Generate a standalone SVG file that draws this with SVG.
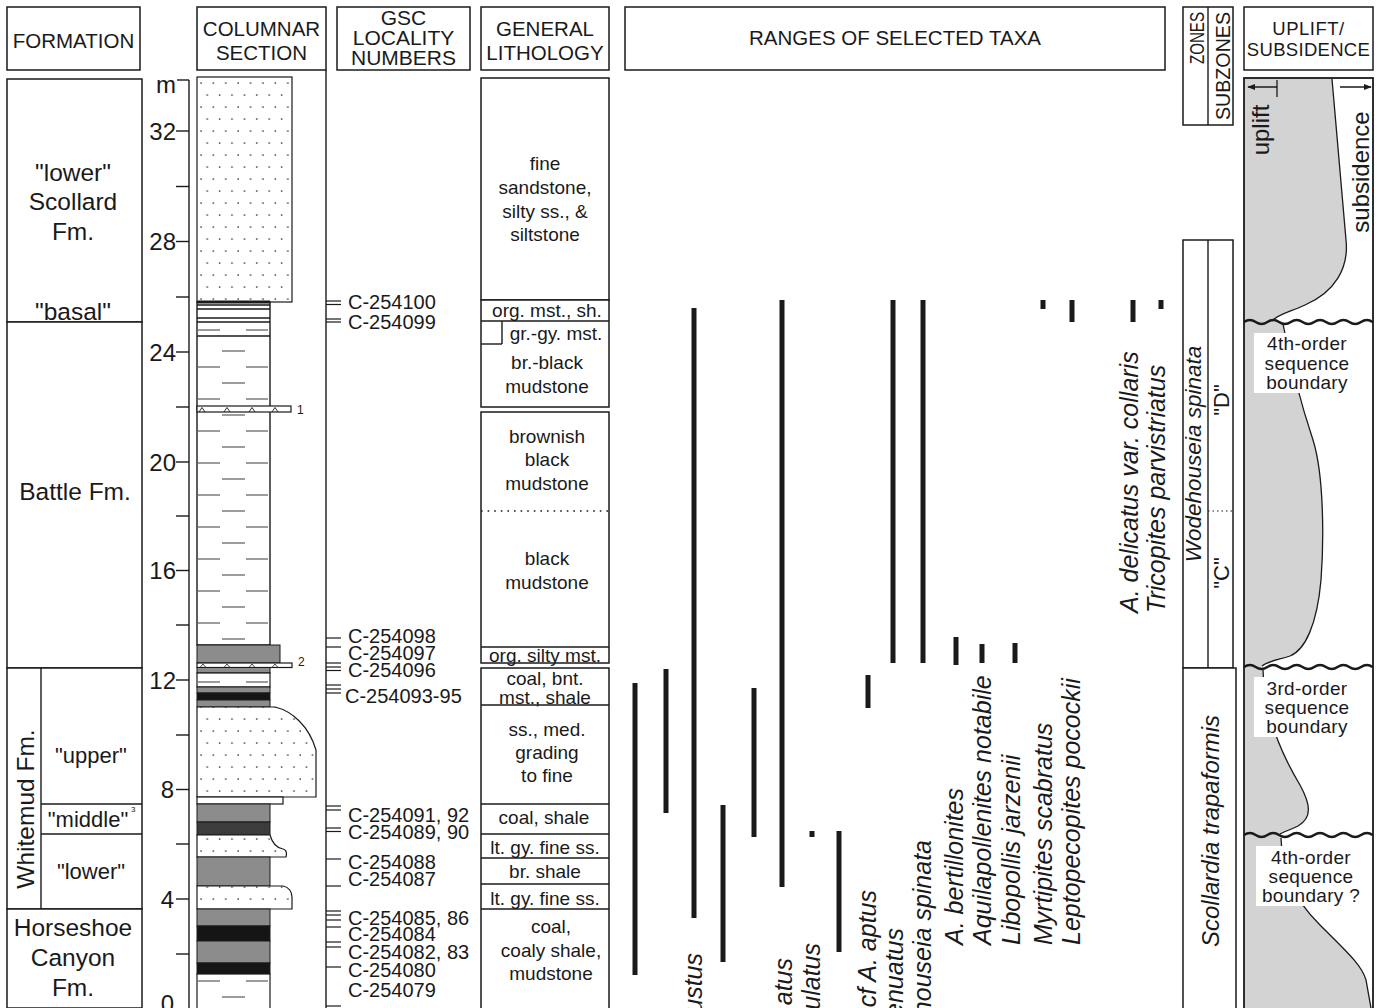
<svg xmlns="http://www.w3.org/2000/svg" width="1380" height="1008" viewBox="0 0 1380 1008">
<style>
text{font-family:"Liberation Sans",Arial,Helvetica,sans-serif;fill:#1a1a1a}
.h{font-size:20.5px;text-anchor:middle}
.box{fill:#fff;stroke:#1a1a1a;stroke-width:1.5}
.ln{stroke:#1a1a1a;stroke-width:1.4;fill:none}
.fm{font-size:24.5px;text-anchor:middle}
.fs{font-size:22px;text-anchor:middle}
.ax{font-size:24px;text-anchor:end}
.gsc{font-size:20px}
.li{font-size:19px;text-anchor:middle}
.tx{font-size:25px;font-style:italic}
.bar{fill:#1a1a1a}
.dash{stroke:#666;stroke-width:1.3}
.g{fill:#8c8c8c;stroke:#1a1a1a;stroke-width:1}
.dk{fill:#3c3c3c;stroke:#1a1a1a;stroke-width:1}
.bk{fill:#151515;stroke:#1a1a1a;stroke-width:1}
.wh{fill:#fff;stroke:#1a1a1a;stroke-width:1.2}
.sd{fill:url(#sand);stroke:#1a1a1a;stroke-width:1.2}
.sq{font-size:19px;text-anchor:middle;letter-spacing:0.3px}
.wave{fill:none;stroke:#1a1a1a;stroke-width:2.5}
</style>
<defs>
<pattern id="sand" patternUnits="userSpaceOnUse" x="197" y="77" width="12.4" height="24">
<rect width="12.4" height="24" fill="#fff"/>
<circle cx="4" cy="6" r="0.85" fill="#333"/>
<circle cx="10.2" cy="18" r="0.85" fill="#333"/>
</pattern>
<pattern id="mud" patternUnits="userSpaceOnUse" x="197" y="343" width="200" height="32">
<line x1="25" y1="8" x2="48" y2="8" stroke="#666" stroke-width="1.3"/>
<line x1="1" y1="24" x2="23" y2="24" stroke="#666" stroke-width="1.3"/>
<line x1="49" y1="24" x2="71" y2="24" stroke="#666" stroke-width="1.3"/>
</pattern>
<marker id="ah" viewBox="0 0 10 10" refX="9" refY="5" markerWidth="8" markerHeight="8" orient="auto" markerUnits="userSpaceOnUse">
<path d="M0,1 L10,5 L0,9 Z" fill="#1a1a1a"/>
</marker>
</defs>
<rect width="1380" height="1008" fill="#fff"/>

<g id="headers">
<rect class="box" x="7" y="7" width="133" height="63"/>
<text class="h" x="73.5" y="48">FORMATION</text>
<rect class="box" x="197" y="7" width="129" height="63"/>
<text class="h" x="261.5" y="36">COLUMNAR</text>
<text class="h" x="261.5" y="60">SECTION</text>
<rect class="box" x="337" y="7" width="133" height="63"/>
<text class="h" x="403.5" y="25" style="font-size:21px">GSC</text>
<text class="h" x="403.5" y="45" style="font-size:21px">LOCALITY</text>
<text class="h" x="403.5" y="65" style="font-size:21px">NUMBERS</text>
<rect class="box" x="481" y="7" width="128" height="63"/>
<text class="h" x="545" y="36">GENERAL</text>
<text class="h" x="545" y="60">LITHOLOGY</text>
<rect class="box" x="625" y="7" width="540" height="63"/>
<text class="h" x="895" y="45">RANGES OF SELECTED TAXA</text>
<rect class="box" x="1183" y="7" width="50" height="118"/>
<line class="ln" x1="1208" y1="7" x2="1208" y2="125"/>
<text transform="translate(1204,12) rotate(-90)" style="font-size:21px;text-anchor:end" textLength="52" lengthAdjust="spacingAndGlyphs">ZONES</text>
<text transform="translate(1230,12) rotate(-90)" style="font-size:21px;text-anchor:end" textLength="108" lengthAdjust="spacingAndGlyphs">SUBZONES</text>
<rect class="box" x="1244" y="7" width="129" height="63"/>
<text class="h" x="1308.5" y="34.5" style="font-size:18.5px;letter-spacing:0.5px">UPLIFT/</text>
<text class="h" x="1308.5" y="55.5" style="font-size:18.5px;letter-spacing:0.3px">SUBSIDENCE</text>
</g>

<g id="formation">
<rect class="box" x="7" y="79" width="135" height="243"/>
<text class="fm" x="73" y="180.5">"lower"</text>
<text class="fm" x="73" y="209.5">Scollard</text>
<text class="fm" x="73" y="239.5">Fm.</text>
<text class="fm" x="73" y="319.5">"basal"</text>
<rect class="box" x="7" y="322" width="135" height="346"/>
<text class="fm" x="75" y="499.5">Battle Fm.</text>
<rect class="box" x="7" y="668" width="135" height="241"/>
<line class="ln" x1="41" y1="668" x2="41" y2="909"/>
<line class="ln" x1="41" y1="804" x2="142" y2="804"/>
<line class="ln" x1="41" y1="834" x2="142" y2="834"/>
<text class="fm" transform="translate(34,809) rotate(-90)">Whitemud Fm.</text>
<text class="fs" x="91" y="762.7">"upper"</text>
<text class="fs" x="88" y="826.7">"middle"</text>
<text x="131" y="812" style="font-size:8px">3</text>
<text class="fs" x="91" y="878.7">"lower"</text>
<rect class="box" x="7" y="909" width="135" height="99"/>
<text class="fm" x="73" y="935.5">Horseshoe</text>
<text class="fm" x="73" y="965.5">Canyon</text>
<text class="fm" x="73" y="995.5">Fm.</text>
</g>

<g id="axis">
<line class="ln" x1="189" y1="80" x2="189" y2="1008"/>
<line class="ln" x1="177" y1="80" x2="189" y2="80"/>
<text x="166" y="93" style="font-size:24px;text-anchor:middle">m</text>
<g class="ln">
<line x1="176" y1="131" x2="189" y2="131"/><line x1="176" y1="186.5" x2="189" y2="186.5"/>
<line x1="176" y1="241.5" x2="189" y2="241.5"/><line x1="176" y1="297" x2="189" y2="297"/>
<line x1="176" y1="352" x2="189" y2="352"/><line x1="176" y1="407" x2="189" y2="407"/>
<line x1="176" y1="462" x2="189" y2="462"/><line x1="176" y1="516" x2="189" y2="516"/>
<line x1="176" y1="570.5" x2="189" y2="570.5"/><line x1="176" y1="625" x2="189" y2="625"/>
<line x1="176" y1="680" x2="189" y2="680"/><line x1="176" y1="735" x2="189" y2="735"/>
<line x1="176" y1="789.5" x2="189" y2="789.5"/><line x1="176" y1="844" x2="189" y2="844"/>
<line x1="176" y1="899" x2="189" y2="899"/><line x1="176" y1="954" x2="189" y2="954"/>
</g>
<text class="ax" x="176" y="139.5">32</text>
<text class="ax" x="176" y="250">28</text>
<text class="ax" x="176" y="360.5">24</text>
<text class="ax" x="176" y="470.5">20</text>
<text class="ax" x="176" y="579">16</text>
<text class="ax" x="176" y="688.5">12</text>
<text class="ax" x="174" y="798">8</text>
<text class="ax" x="174" y="907.5">4</text>
<text class="ax" x="174" y="1012">0</text>
</g>

<g id="columnar-section">
<line class="ln" x1="326" y1="70" x2="326" y2="1008"/>
<rect class="sd" x="197" y="77" width="95" height="225"/>
<rect x="197" y="302" width="73" height="343" fill="#fff" stroke="#1a1a1a" stroke-width="1.4"/>
<rect x="197" y="336" width="73" height="309" fill="url(#mud)"/>
<line x1="197" y1="302" x2="270" y2="302" stroke="#1a1a1a" stroke-width="2.8"/>
<g class="ln">
<line x1="197" y1="305" x2="270" y2="305"/><line x1="197" y1="309" x2="270" y2="309"/>
<line x1="197" y1="318" x2="270" y2="318"/><line x1="197" y1="322" x2="270" y2="322"/>
<line x1="197" y1="336" x2="270" y2="336"/>
</g>
<line class="dash" x1="198" y1="330" x2="220" y2="330"/><line class="dash" x1="246" y1="330" x2="268" y2="330"/>
<rect class="wh" x="197" y="406" width="94" height="6"/>
<g fill="none" stroke="#1a1a1a" stroke-width="0.9">
<path d="M199,412 L202,407.5 L205,412"/><path d="M224,412 L227,407.5 L230,412"/>
<path d="M249,412 L252,407.5 L255,412"/><path d="M272,412 L275,407.5 L278,412"/>
</g>
<text x="297" y="414" style="font-size:12px">1</text>
<rect class="g" x="197" y="645" width="83" height="18"/>
<rect class="wh" x="197" y="663" width="95" height="4.5"/>
<g fill="none" stroke="#1a1a1a" stroke-width="0.8">
<path d="M200,667.5 L203,664 L206,667.5"/><path d="M224,667.5 L227,664 L230,667.5"/>
<path d="M249,667.5 L252,664 L255,667.5"/><path d="M272,667.5 L275,664 L278,667.5"/>
</g>
<text x="298" y="666" style="font-size:12px">2</text>
<rect class="g" x="197" y="667.5" width="73" height="5.5"/>
<rect class="wh" x="197" y="673" width="73" height="14"/>
<line class="dash" x1="198" y1="682" x2="220" y2="682"/><line class="dash" x1="246" y1="682" x2="268" y2="682"/>
<rect class="g" x="197" y="687" width="73" height="6"/>
<rect class="bk" x="197" y="693" width="73" height="7"/>
<rect class="g" x="197" y="700" width="73" height="7"/>
<path class="sd" d="M197,707 L275,707 C292,711 309,726 316,750 L316,797 L197,797 Z"/>
<rect class="wh" x="197" y="797" width="86" height="7"/>
<rect class="g" x="197" y="804" width="73" height="18"/>
<rect class="dk" x="197" y="822" width="73" height="13"/>
<path class="sd" d="M197,835 L270,835 C272,842 276,848 283,849 C287,850 287,853 286,857 L197,857 Z"/>
<rect class="g" x="197" y="857" width="73" height="29"/>
<path class="sd" d="M197,886 L283,886 C289,887 292,892 292,897 L292,909 L197,909 Z"/>
<rect class="g" x="197" y="909" width="73" height="17"/>
<rect class="bk" x="197" y="926" width="73" height="15"/>
<rect class="g" x="197" y="941" width="73" height="22"/>
<rect class="bk" x="197" y="963" width="73" height="11"/>
<rect class="wh" x="197" y="974" width="73" height="40"/>
<line class="dash" x1="198" y1="981" x2="220" y2="981"/><line class="dash" x1="246" y1="981" x2="268" y2="981"/>
<line class="dash" x1="222" y1="997" x2="245" y2="997"/>
</g>

<g id="gsc-localities">
<g class="ln" style="stroke-width:1.2">
<line x1="326" y1="301" x2="341" y2="301"/><line x1="326" y1="304.5" x2="341" y2="304.5"/>
<line x1="326" y1="319" x2="341" y2="319"/><line x1="326" y1="322" x2="341" y2="322"/>
<line x1="326" y1="638" x2="341" y2="638"/><line x1="326" y1="647" x2="341" y2="647"/>
<line x1="326" y1="663" x2="341" y2="663"/><line x1="326" y1="667" x2="341" y2="667"/><line x1="326" y1="670.5" x2="341" y2="670.5"/>
<line x1="326" y1="685" x2="341" y2="685"/><line x1="326" y1="689" x2="341" y2="689"/><line x1="326" y1="693" x2="341" y2="693"/>
<line x1="326" y1="806" x2="341" y2="806"/><line x1="326" y1="810" x2="341" y2="810"/>
<line x1="326" y1="828" x2="341" y2="828"/><line x1="326" y1="831.5" x2="341" y2="831.5"/>
<line x1="326" y1="859" x2="341" y2="859"/><line x1="326" y1="886" x2="341" y2="886"/>
<line x1="326" y1="911" x2="341" y2="911"/><line x1="326" y1="915" x2="341" y2="915"/><line x1="326" y1="920" x2="341" y2="920"/>
<line x1="326" y1="927" x2="341" y2="927"/>
<line x1="326" y1="942" x2="341" y2="942"/><line x1="326" y1="947" x2="341" y2="947"/>
<line x1="326" y1="967" x2="341" y2="967"/><line x1="326" y1="1006" x2="341" y2="1006"/>
</g>
<text class="gsc" x="348" y="309">C-254100</text>
<text class="gsc" x="348" y="329">C-254099</text>
<text class="gsc" x="348" y="643">C-254098</text>
<text class="gsc" x="348" y="660">C-254097</text>
<text class="gsc" x="348" y="677">C-254096</text>
<text class="gsc" x="345" y="703">C-254093-95</text>
<text class="gsc" x="348" y="822">C-254091, 92</text>
<text class="gsc" x="348" y="839">C-254089, 90</text>
<text class="gsc" x="348" y="869">C-254088</text>
<text class="gsc" x="348" y="886">C-254087</text>
<text class="gsc" x="348" y="925">C-254085, 86</text>
<text class="gsc" x="348" y="941">C-254084</text>
<text class="gsc" x="348" y="959">C-254082, 83</text>
<text class="gsc" x="348" y="977">C-254080</text>
<text class="gsc" x="348" y="997">C-254079</text>
</g>

<g id="lithology">
<rect class="box" x="481" y="78" width="128" height="222"/>
<text class="li" x="545" y="169.6">fine</text>
<text class="li" x="545" y="193.6">sandstone,</text>
<text class="li" x="545" y="217.6">silty ss., &amp;</text>
<text class="li" x="545" y="240.6">siltstone</text>
<rect class="box" x="481" y="300" width="128" height="107"/>
<line class="ln" x1="481" y1="321" x2="609" y2="321"/>
<line class="ln" x1="502" y1="321" x2="502" y2="344"/>
<line class="ln" x1="481" y1="344" x2="502" y2="344"/>
<text class="li" x="547" y="316.6">org. mst., sh.</text>
<text class="li" x="556" y="339.6">gr.-gy. mst.</text>
<text class="li" x="547" y="368.6">br.-black</text>
<text class="li" x="547" y="392.6">mudstone</text>
<rect class="box" x="481" y="412" width="128" height="251"/>
<line x1="481" y1="511" x2="609" y2="511" stroke="#1a1a1a" stroke-width="1.6" stroke-dasharray="1.6,5"/>
<line class="ln" x1="481" y1="647" x2="609" y2="647"/>
<text class="li" x="547" y="442.6">brownish</text>
<text class="li" x="547" y="465.6">black</text>
<text class="li" x="547" y="489.6">mudstone</text>
<text class="li" x="547" y="564.6">black</text>
<text class="li" x="547" y="588.6">mudstone</text>
<text class="li" x="545" y="661.6">org. silty mst.</text>
<rect class="box" x="481" y="668" width="128" height="345"/>
<g class="ln">
<line x1="481" y1="705" x2="609" y2="705"/><line x1="481" y1="804" x2="609" y2="804"/>
<line x1="481" y1="834" x2="609" y2="834"/><line x1="481" y1="858" x2="609" y2="858"/>
<line x1="481" y1="884" x2="609" y2="884"/><line x1="481" y1="909" x2="609" y2="909"/>
</g>
<text class="li" x="545" y="684.6">coal, bnt.</text>
<text class="li" x="545" y="703.6">mst., shale</text>
<text class="li" x="547" y="735.6">ss., med.</text>
<text class="li" x="547" y="758.6">grading</text>
<text class="li" x="547" y="781.6">to fine</text>
<text class="li" x="544" y="823.6">coal, shale</text>
<text class="li" x="545" y="853.6">lt. gy. fine ss.</text>
<text class="li" x="545" y="877.6">br. shale</text>
<text class="li" x="545" y="904.6">lt. gy. fine ss.</text>
<text class="li" x="551" y="932.6">coal,</text>
<text class="li" x="551" y="956.6">coaly shale,</text>
<text class="li" x="551" y="979.6">mudstone</text>
</g>

<g id="taxa-ranges">
<rect class="bar" x="632.5" y="683" width="5" height="292"/>
<rect class="bar" x="663.5" y="669" width="5" height="144"/>
<rect class="bar" x="691.5" y="308" width="5" height="610"/>
<rect class="bar" x="720.5" y="805" width="5" height="157"/>
<rect class="bar" x="751.5" y="688" width="5" height="149"/>
<rect class="bar" x="779.5" y="300" width="5" height="587"/>
<rect class="bar" x="809.5" y="831" width="5" height="6"/>
<rect class="bar" x="836.5" y="831" width="5" height="121"/>
<rect class="bar" x="865.5" y="675" width="5" height="33"/>
<rect class="bar" x="890.5" y="300" width="5" height="363"/>
<rect class="bar" x="920.5" y="300" width="5" height="363"/>
<rect class="bar" x="953.5" y="637" width="5" height="28"/>
<rect class="bar" x="979.5" y="644" width="5" height="19"/>
<rect class="bar" x="1012.5" y="643" width="5" height="20"/>
<rect class="bar" x="1040.5" y="300" width="5" height="9"/>
<rect class="bar" x="1069.5" y="300" width="5" height="22"/>
<rect class="bar" x="1130.5" y="300" width="5" height="22"/>
<rect class="bar" x="1158.5" y="300" width="5" height="9"/>
<text class="tx" transform="translate(702,953) rotate(-90)" text-anchor="end">ustus</text>
<text class="tx" transform="translate(792,958) rotate(-90)" text-anchor="end">atus</text>
<text class="tx" transform="translate(820,943) rotate(-90)" text-anchor="end">ulatus</text>
<text class="tx" transform="translate(876,890) rotate(-90)" text-anchor="end">cf A. aptus</text>
<text class="tx" transform="translate(903,928) rotate(-90)" text-anchor="end">enuatus</text>
<text class="tx" transform="translate(931,840) rotate(-90)" text-anchor="end">houseia spinata</text>
<text class="tx" transform="translate(963,945) rotate(-90)">A. bertillonites</text>
<text class="tx" transform="translate(991,945) rotate(-90)">Aquilapollenites notabile</text>
<text class="tx" transform="translate(1020,945) rotate(-90)">Libopollis jarzenii</text>
<text class="tx" transform="translate(1052,945) rotate(-90)">Myrtipites scabratus</text>
<text class="tx" transform="translate(1080,945) rotate(-90)">Leptopecopites pocockii</text>
<text class="tx" transform="translate(1138,613) rotate(-90)">A. delicatus var. collaris</text>
<text class="tx" transform="translate(1165,613) rotate(-90)">Tricopites parvistriatus</text>
</g>

<g id="zones">
<rect class="box" x="1183" y="240" width="50" height="428"/>
<line class="ln" x1="1208" y1="240" x2="1208" y2="668"/>
<line x1="1208" y1="511" x2="1233" y2="511" stroke="#1a1a1a" stroke-width="1.2" stroke-dasharray="1.5,3"/>
<text transform="translate(1201,454) rotate(-90)" style="font-size:22.5px;font-style:italic;text-anchor:middle">Wodehouseia spinata</text>
<text transform="translate(1229,400) rotate(-90)" style="font-size:22px;text-anchor:middle">"D"</text>
<text transform="translate(1229,573) rotate(-90)" style="font-size:22px;text-anchor:middle">"C"</text>
<rect class="box" x="1183" y="668" width="53" height="345"/>
<text transform="translate(1219,831) rotate(-90)" style="font-size:24px;font-style:italic;text-anchor:middle">Scollardia trapaformis</text>
</g>

<g id="uplift-subsidence">
<path d="M1244,78 L1332,78 L1346,240 C1349,268 1335,292 1305,305 C1290,312 1278,314 1272,321 L1283,324 C1288,350 1298,395 1313,440 C1324,475 1324,540 1321,580 C1317,625 1305,650 1290,656 C1278,660 1268,661 1262,666 L1263,670 C1264,715 1282,755 1300,785 C1311,805 1312,818 1298,826 C1290,830 1283,832 1280,834 L1281,838 C1282,870 1290,895 1320,925 C1345,950 1362,965 1366,980 L1371,1008 L1244,1008 Z" fill="#d3d3d3"/>
<g fill="none" stroke="#1a1a1a" stroke-width="1.3">
<path d="M1332,79 L1346,240 C1349,268 1335,292 1305,305 C1290,312 1278,314 1272,321"/>
<path d="M1283,324 C1288,350 1298,395 1313,440 C1324,475 1324,540 1321,580 C1317,625 1305,650 1290,656 C1278,660 1268,661 1262,666"/>
<path d="M1263,670 C1264,715 1282,755 1300,785 C1311,805 1312,818 1298,826 C1290,830 1283,832 1280,834"/>
<path d="M1281,838 C1282,870 1290,895 1320,925 C1345,950 1362,965 1366,980 L1371,1008"/>
</g>
<rect x="1244" y="78" width="129" height="935" fill="none" stroke="#1a1a1a" stroke-width="1.8"/>
<path class="wave" d="M1244,322 q5.85,-4 11.7,0 t11.7,0 t11.7,0 t11.7,0 t11.7,0 t11.7,0 t11.7,0 t11.7,0 t11.7,0 t11.7,0 t11.7,0"/>
<path class="wave" d="M1244,667 q5.85,-4 11.7,0 t11.7,0 t11.7,0 t11.7,0 t11.7,0 t11.7,0 t11.7,0 t11.7,0 t11.7,0 t11.7,0 t11.7,0"/>
<path class="wave" d="M1244,835 q5.85,-4 11.7,0 t11.7,0 t11.7,0 t11.7,0 t11.7,0 t11.7,0 t11.7,0 t11.7,0 t11.7,0 t11.7,0 t11.7,0"/>
<line x1="1277" y1="87" x2="1248" y2="87" stroke="#1a1a1a" stroke-width="1.5" marker-end="url(#ah)"/>
<line x1="1277" y1="80" x2="1277" y2="97" stroke="#1a1a1a" stroke-width="1.3"/>
<line x1="1340" y1="87" x2="1371" y2="87" stroke="#1a1a1a" stroke-width="1.5" marker-end="url(#ah)"/>
<text transform="translate(1269,130) rotate(-90)" style="font-size:24px;text-anchor:middle">uplift</text>
<text transform="translate(1369,172) rotate(-90)" style="font-size:24px;text-anchor:middle">subsidence</text>
<rect x="1254" y="333" width="106" height="60" fill="#fff"/>
<text class="sq" x="1307" y="349.6">4th-order</text>
<text class="sq" x="1307" y="369.6">sequence</text>
<text class="sq" x="1307" y="388.6">boundary</text>
<rect x="1254" y="677" width="106" height="60" fill="#fff"/>
<text class="sq" x="1307" y="694.6">3rd-order</text>
<text class="sq" x="1307" y="713.6">sequence</text>
<text class="sq" x="1307" y="732.6">boundary</text>
<rect x="1256" y="846" width="112" height="60" fill="#fff"/>
<text class="sq" x="1311" y="863.6">4th-order</text>
<text class="sq" x="1311" y="882.6">sequence</text>
<text class="sq" x="1311" y="901.6">boundary ?</text>
</g>
</svg>
